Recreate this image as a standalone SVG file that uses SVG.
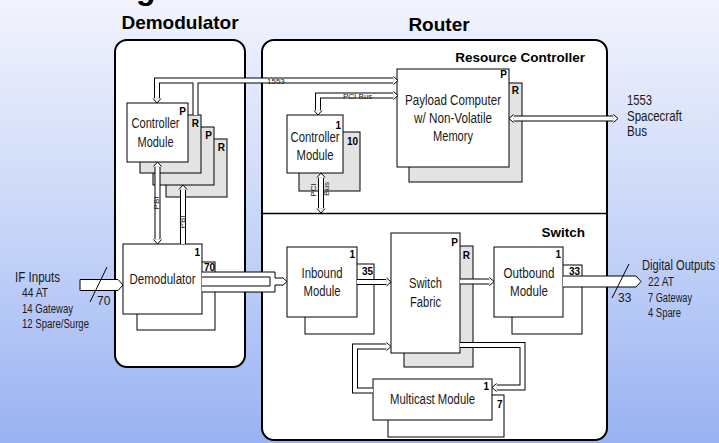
<svg xmlns="http://www.w3.org/2000/svg" xmlns:xlink="http://www.w3.org/1999/xlink" width="719" height="443" viewBox="0 0 719 443">
<defs>
<linearGradient id="bg" x1="0" y1="0" x2="0" y2="1">
<stop offset="0" stop-color="#f2f4fd"/>
<stop offset="0.5" stop-color="#c9d6f8"/>
<stop offset="1" stop-color="#98b2f2"/>
</linearGradient>
<path id="chev" d="M-4.5,-4 L0,0 L-4.5,4" fill="#fff" stroke="#000" stroke-width="1"/>
<style>
.panel{fill:#fff;stroke:#000;stroke-width:2}
.box{fill:#fff;stroke:#000;stroke-width:1}
.gbox{fill:#e3e3e3;stroke:#000;stroke-width:1}
.bo{fill:none;stroke:#000;stroke-width:6}
.bi{fill:none;stroke:#fff;stroke-width:4}
.shape{fill:#fff;stroke:#000;stroke-width:1}
.ln{stroke:#000;stroke-width:1;fill:none}
text{font-family:"Liberation Sans Narrow","Liberation Sans",Arial,sans-serif;fill:#1a1a1a}
.hd{font-family:"Liberation Sans",Arial,sans-serif;font-weight:bold;font-size:19px;text-anchor:middle;fill:#000}
.sec{font-family:"Liberation Sans",Arial,sans-serif;font-weight:bold;font-size:13.5px;text-anchor:end;fill:#000}
.lbl{font-size:14px;text-anchor:middle}
.side{font-size:14px}
.sm{font-size:12px}
.pr{font-family:"Liberation Sans",Arial,sans-serif;font-weight:bold;font-size:10px;text-anchor:end;fill:#000}
.pn{font-family:"Liberation Sans",Arial,sans-serif;font-weight:bold;font-size:10px;fill:#000}
.tiny{font-family:"Liberation Sans",Arial,sans-serif;font-size:8px;fill:#222}
</style>
</defs>
<rect width="719" height="443" fill="url(#bg)"/>
<text x="136" y="-1" style="font-family:'Liberation Sans',Arial,sans-serif;font-weight:bold;font-size:32px;fill:#000">g</text>

<g id="demodulator-panel">
<rect class="panel" x="115" y="40" width="130" height="327" rx="12"/>
<text class="hd" x="180" y="29">Demodulator</text>
</g>
<g id="router-panel">
<rect class="panel" x="262" y="40" width="345" height="400" rx="12"/>
<line x1="262" y1="213.5" x2="607" y2="213.5" stroke="#000" stroke-width="1.5"/>
<text class="hd" x="439" y="31">Router</text>
<text class="sec" x="585" y="62">Resource Controller</text>
<text class="sec" x="585" y="237">Switch</text>
</g>

<g id="controller-demod">
<rect class="gbox" x="166" y="139" width="61" height="58"/>
<rect class="gbox" x="153" y="127" width="61" height="58"/>
<rect class="gbox" x="140" y="115" width="61" height="58"/>
<rect class="box" x="127" y="103" width="61" height="59"/>
<text class="pr" x="186" y="115">P</text>
<text class="pr" x="199" y="127">R</text>
<text class="pr" x="212" y="139">P</text>
<text class="pr" x="225" y="151">R</text>
<text class="lbl" x="155.5" y="128" textLength="48" lengthAdjust="spacingAndGlyphs">Controller</text>
<text class="lbl" x="155.5" y="147" textLength="36" lengthAdjust="spacingAndGlyphs">Module</text>
</g>

<g id="demodulator">
<rect class="box" x="137" y="262" width="78" height="68"/>
<rect class="box" x="123" y="244" width="79" height="70"/>
<text class="pr" x="200" y="256">1</text>
<text class="pn" x="204" y="271">70</text>
<text class="lbl" x="162.5" y="284" textLength="66" lengthAdjust="spacingAndGlyphs">Demodulator</text>
</g>

<g id="payload-computer">
<rect class="gbox" x="409" y="83" width="113" height="99"/>
<rect class="box" x="397" y="69" width="112" height="98"/>
<text class="pr" x="507" y="78">P</text>
<text class="pr" x="519" y="94">R</text>
<text class="lbl" x="453" y="105" textLength="96" lengthAdjust="spacingAndGlyphs">Payload Computer</text>
<text class="lbl" x="453" y="123" textLength="78" lengthAdjust="spacingAndGlyphs">w/ Non-Volatile</text>
<text class="lbl" x="453" y="141" textLength="40" lengthAdjust="spacingAndGlyphs">Memory</text>
</g>

<g id="controller-router">
<rect class="gbox" x="299" y="132" width="61" height="59"/>
<rect class="box" x="287" y="115" width="56" height="58"/>
<text class="pr" x="341" y="129">1</text>
<text class="pn" x="347" y="145">10</text>
<text class="lbl" x="315" y="142" textLength="49" lengthAdjust="spacingAndGlyphs">Controller</text>
<text class="lbl" x="315" y="160" textLength="37" lengthAdjust="spacingAndGlyphs">Module</text>
</g>

<g id="inbound-module">
<rect class="box" x="305" y="264" width="69" height="70"/>
<rect class="box" x="287" y="247" width="70" height="70"/>
<text class="pr" x="355" y="258">1</text>
<text class="pn" x="362" y="275">35</text>
<text class="lbl" x="322" y="278" textLength="41" lengthAdjust="spacingAndGlyphs">Inbound</text>
<text class="lbl" x="322" y="296" textLength="37" lengthAdjust="spacingAndGlyphs">Module</text>
</g>

<g id="switch-fabric">
<rect class="gbox" x="404" y="246" width="69" height="121"/>
<rect class="box" x="391" y="233" width="69" height="120"/>
<text class="pr" x="458" y="246">P</text>
<text class="pr" x="470" y="259">R</text>
<text class="lbl" x="425.5" y="288" textLength="33" lengthAdjust="spacingAndGlyphs">Switch</text>
<text class="lbl" x="425.5" y="307" textLength="31" lengthAdjust="spacingAndGlyphs">Fabric</text>
</g>

<g id="outbound-module">
<rect class="box" x="512" y="265" width="70" height="69"/>
<rect class="box" x="494" y="247" width="69" height="70"/>
<text class="pr" x="561" y="258">1</text>
<text class="pn" x="569" y="275">33</text>
<text class="lbl" x="529" y="278" textLength="51" lengthAdjust="spacingAndGlyphs">Outbound</text>
<text class="lbl" x="529" y="296" textLength="38" lengthAdjust="spacingAndGlyphs">Module</text>
</g>

<g id="multicast-module">
<rect class="box" x="388" y="395" width="116" height="42"/>
<rect class="box" x="373" y="379" width="119" height="41"/>
<text class="pr" x="489" y="390">1</text>
<text class="pn" x="497" y="408">7</text>
<text class="lbl" x="432.5" y="404" textLength="85" lengthAdjust="spacingAndGlyphs">Multicast Module</text>
</g>

<g id="connectors">
<g id="bus-outer">
<path class="bo" d="M157,98.5 V80.5 H393.5 M195.5,80.5 V115"/>
<path class="bo" d="M318,110.5 V95.5 H393.5"/>
<path class="bo" d="M321,177.5 V208.5"/>
<path class="bo" d="M157.5,166.5 V239.5"/>
<path class="bo" d="M183,189.5 V244"/>
<path class="bo" d="M513.5,118.5 H613.5"/>
<path class="bo" d="M357,282 H386.5"/>
<path class="bo" d="M460,281.5 H489.5"/>
<path class="bo" d="M373,390.5 H355 V346.5 H386.5"/>
<path class="bo" d="M460,345 H522.5 V387.5 H496.5"/>
</g>
<g id="bus-inner">
<path class="bi" d="M157,98.5 V80.5 H393.5 M195.5,80.5 V115"/>
<path class="bi" d="M318,110.5 V95.5 H393.5"/>
<path class="bi" d="M321,177.5 V208.5"/>
<path class="bi" d="M157.5,166.5 V239.5"/>
<path class="bi" d="M183,189.5 V244"/>
<path class="bi" d="M513.5,118.5 H613.5"/>
<path class="bi" d="M357,282 H386.5"/>
<path class="bi" d="M460,281.5 H489.5"/>
<path class="bi" d="M373,390.5 H355 V346.5 H386.5"/>
<path class="bi" d="M460,345 H522.5 V387.5 H496.5"/>
</g>
<g id="arrowheads">
<use xlink:href="#chev" href="#chev" transform="translate(157,103) rotate(90)"/>
<use xlink:href="#chev" href="#chev" transform="translate(398,80.5)"/>
<use xlink:href="#chev" href="#chev" transform="translate(318,115) rotate(90)"/>
<use xlink:href="#chev" href="#chev" transform="translate(398,95.5)"/>
<use xlink:href="#chev" href="#chev" transform="translate(321,173) rotate(-90)"/>
<use xlink:href="#chev" href="#chev" transform="translate(321,213) rotate(90)"/>
<use xlink:href="#chev" href="#chev" transform="translate(157.5,162) rotate(-90)"/>
<use xlink:href="#chev" href="#chev" transform="translate(157.5,244) rotate(90)"/>
<use xlink:href="#chev" href="#chev" transform="translate(183,185) rotate(-90)"/>
<use xlink:href="#chev" href="#chev" transform="translate(509,118.5) rotate(180)"/>
<use xlink:href="#chev" href="#chev" transform="translate(618,118.5)"/>
<use xlink:href="#chev" href="#chev" transform="translate(391,282)"/>
<use xlink:href="#chev" href="#chev" transform="translate(494,281.5)"/>
<use xlink:href="#chev" href="#chev" transform="translate(391,346.5)"/>
<use xlink:href="#chev" href="#chev" transform="translate(492,387.5) rotate(180)"/>
</g>
<g id="demod-to-inbound">
<path class="shape" d="M202,272 H275 V278 H282.5 V277.5 L287,281.5 L282.5,285.5 V285 H275 V292 H202"/>
<path class="shape" d="M202,277 H270 V286 H202"/>
</g>
<g id="if-inputs-arrow">
<path class="shape" d="M80,279.5 H118 L123,285 L118,290.5 H80 Z"/>
<line class="ln" x1="107" y1="267" x2="90" y2="302"/>
<text class="sm" x="97" y="305">70</text>
</g>
<g id="digital-outputs-arrow">
<path class="shape" d="M563,276 H636 L641,281.5 L636,287 H563"/>
<line class="ln" x1="629" y1="264" x2="612" y2="298"/>
<text class="sm" x="618" y="302">33</text>
</g>
<g id="bus-labels">
<text class="tiny" x="267" y="83.5">1553</text>
<text class="tiny" x="343" y="99">PCI Bus</text>
<text class="tiny" transform="translate(316,190) rotate(-90)" text-anchor="middle">PCI</text>
<text class="tiny" transform="translate(329,189) rotate(-90)" text-anchor="middle">Bus</text>
<text class="tiny" transform="translate(158.5,203) rotate(-90)" text-anchor="middle">PBI</text>
<text class="tiny" transform="translate(184.5,222) rotate(-90)" text-anchor="middle">PBI</text>
</g>
</g>

<g id="if-inputs">
<text class="side" x="15" y="282" textLength="45" lengthAdjust="spacingAndGlyphs">IF Inputs</text>
<text class="sm" x="22" y="297" textLength="26" lengthAdjust="spacingAndGlyphs">44 AT</text>
<text class="sm" x="22" y="313" textLength="51" lengthAdjust="spacingAndGlyphs">14 Gateway</text>
<text class="sm" x="22" y="328" textLength="67" lengthAdjust="spacingAndGlyphs">12 Spare/Surge</text>
</g>
<g id="digital-outputs">
<text class="side" x="642" y="270" textLength="73" lengthAdjust="spacingAndGlyphs">Digital Outputs</text>
<text class="sm" x="648" y="286" textLength="26" lengthAdjust="spacingAndGlyphs">22 AT</text>
<text class="sm" x="648" y="302" textLength="44" lengthAdjust="spacingAndGlyphs">7 Gateway</text>
<text class="sm" x="648" y="317" textLength="33" lengthAdjust="spacingAndGlyphs">4 Spare</text>
</g>
<g id="spacecraft-bus">
<text class="side" x="627" y="105" textLength="25" lengthAdjust="spacingAndGlyphs">1553</text>
<text class="side" x="627" y="121" textLength="55" lengthAdjust="spacingAndGlyphs">Spacecraft</text>
<text class="side" x="627" y="136" textLength="20" lengthAdjust="spacingAndGlyphs">Bus</text>
</g>
</svg>
